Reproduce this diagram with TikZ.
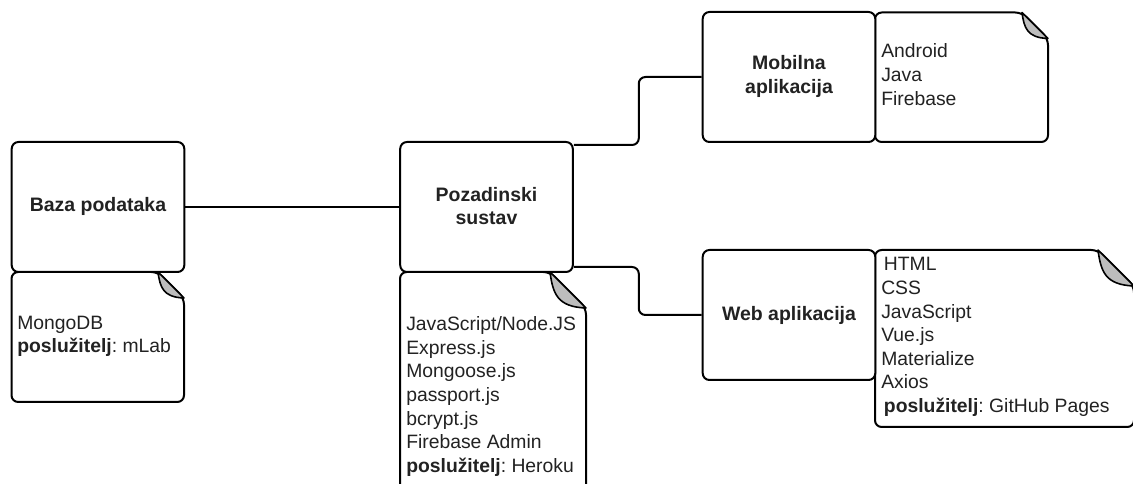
\documentclass[tikz,border=0pt]{standalone}
\usepackage{fontspec}
\setmainfont{Liberation Sans}
\frenchspacing
\newcommand{\notepath}[6]{%
  \draw[noteline] (#1+40,#2) -- (#3-#5,#2) -- (#3,#2+#5) -- (#3,#4) -- (#1,#4) -- (#1,#2) -- cycle;
  \draw[foldline] (#3-#5,#2) .. controls (#3-#5+0.08*#5,#2+0.6*#5) and (#3-#5+0.2*#5,#2+0.97*#5) .. (#3,#2+#5) -- cycle;
}
\tikzset{
  x=0.75pt,y=-0.75pt,
  noteline/.style={draw=black,fill=white,line width=1.5pt,rounded corners=5pt,line join=round},
  foldline/.style={draw=black,fill=foldgray,line width=1.2pt,line join=round},
  boxnode/.style={draw=black,fill=white,line width=1.5pt,rounded corners=5pt,minimum width=129.4pt,minimum height=97.5pt,inner sep=0pt},
  labelnode/.style={font=\fontsize{14.6pt}{17.7pt}\selectfont\bfseries,align=center,text=textdark,inner sep=0pt},
  listnode/.style={font=\fontsize{14.5pt}{17.7pt}\selectfont,align=left,anchor=west,text=textdark,inner sep=0pt},
  wire/.style={draw=black,line width=1.5pt,rounded corners=5pt},
}
\definecolor{foldgray}{HTML}{BDBDBD}
\definecolor{textdark}{HTML}{222222}
\begin{document}
\begin{tikzpicture}
\useasboundingbox (0,0) rectangle (1133,484);
\clip (0,0) rectangle (1133,484);
\fill[white] (0,0) rectangle (1133,484);
% notes
\notepath{11.5}{272}{184}{402}{26}{6}
\notepath{400}{272}{586}{520}{36}{6}
\notepath{875}{12.5}{1048}{142}{26}{6}
\notepath{875}{250}{1134}{427}{36}{6}
% boxes
\node[boxnode] (baza) at (98,207) {};
\node[boxnode] (poz) at (486.5,207) {};
\node[boxnode] (mob) at (789,77) {};
\node[boxnode] (web) at (789,315) {};
% connectors
\draw[wire] (baza.east) -- (poz.west);
\draw[wire] ([yshift=-3pt]poz.north east) -- ++(65,0) |- (mob.west);
\draw[wire] ([yshift=4.5pt]poz.south east) -- ++(65,0) |- (web.west);
% labels
\node[labelnode] (t1) at (98,206.5) {Baza podataka};
\node[labelnode] (t2) at (486.5,206) {Pozadinski\\sustav};
\node[labelnode] (t3) at (789,76.5) {Mobilna\\aplikacija};
\node[labelnode] (t4) at (789,315) {Web aplikacija};
% lists
\node[listnode] (l1) at (17,336.5) {MongoDB\\\textbf{poslužitelj}: mLab};
\node[listnode] (l2) at (406,396.5) {JavaScript/Node.JS\\Express.js\\Mongoose.js\\passport.js\\bcrypt.js\\Firebase Admin\\\textbf{poslužitelj}: Heroku};
\node[listnode] (l3) at (881,74.5) {Android\\Java\\Firebase};
\node[listnode] (l4) at (881,337) {\hspace*{2pt}HTML\\CSS\\JavaScript\\Vue.js\\Materialize\\Axios\\\hspace*{2pt}\textbf{poslužitelj}: GitHub Pages};
\end{tikzpicture}
\end{document}
